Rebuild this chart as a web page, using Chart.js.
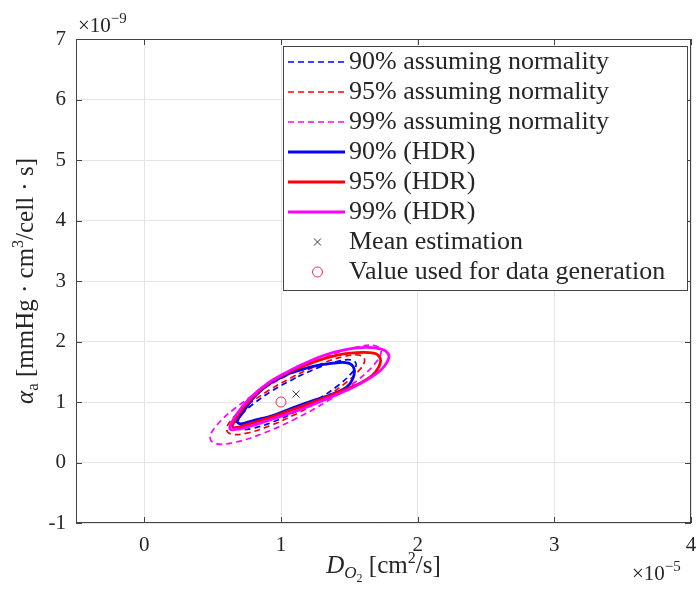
<!DOCTYPE html>
<html>
<head>
<meta charset="utf-8">
<script src="https://cdn.jsdelivr.net/npm/chart.js@4.4.1/dist/chart.umd.min.js"></script>
<style>
  html, body { margin: 0; padding: 0; background: #fff; }
  canvas { display: block; }
</style>
</head>
<body>
<canvas id="regionChart" width="697" height="590"></canvas>
<script>
"use strict";

// D_O2 in units of 1e-5 cm^2/s, alpha_a in units of 1e-9
const xTickValues = [0, 1, 2, 3, 4];
const yTickValues = [-1, 0, 1, 2, 3, 4, 5, 6, 7];

// confidence ellipses under the normal approximation
const normal90X = [1.107, 0.937, 0.794, 0.698, 0.664, 0.698, 0.794, 0.937, 1.107, 1.277, 1.420, 1.516, 1.550, 1.516, 1.420, 1.277, 1.107];
const normal90Y = [1.401, 1.187, 0.963, 0.762, 0.616, 0.546, 0.565, 0.667, 0.839, 1.053, 1.277, 1.478, 1.624, 1.694, 1.675, 1.573, 1.401];
const normal95X = [1.107, 0.914, 0.750, 0.640, 0.602, 0.640, 0.750, 0.914, 1.107, 1.300, 1.464, 1.574, 1.612, 1.574, 1.464, 1.300, 1.107];
const normal95Y = [1.441, 1.197, 0.940, 0.712, 0.545, 0.466, 0.486, 0.603, 0.799, 1.043, 1.300, 1.528, 1.695, 1.774, 1.754, 1.637, 1.441];
const normal99X = [1.107, 0.867, 0.664, 0.529, 0.481, 0.529, 0.664, 0.867, 1.107, 1.347, 1.550, 1.685, 1.733, 1.685, 1.550, 1.347, 1.107];
const normal99Y = [1.517, 1.214, 0.897, 0.613, 0.407, 0.309, 0.335, 0.480, 0.723, 1.026, 1.343, 1.627, 1.833, 1.931, 1.905, 1.760, 1.517];

// highest density region contours
const hdr90X = [1.063, 0.915, 0.804, 0.731, 0.680, 0.705, 0.792, 0.940, 1.087, 1.235, 1.383, 1.481, 1.525, 1.535, 1.493, 1.383, 1.235, 1.063];
const hdr90Y = [1.476, 1.300, 1.080, 0.860, 0.680, 0.640, 0.690, 0.775, 0.904, 1.025, 1.135, 1.245, 1.383, 1.548, 1.642, 1.642, 1.587, 1.476];
const hdr95X = [1.112, 0.940, 0.792, 0.694, 0.645, 0.657, 0.768, 0.940, 1.137, 1.333, 1.481, 1.579, 1.666, 1.715, 1.727, 1.678, 1.506, 1.309, 1.112];
const hdr95Y = [1.548, 1.356, 1.080, 0.805, 0.612, 0.573, 0.639, 0.760, 0.915, 1.080, 1.218, 1.311, 1.438, 1.576, 1.714, 1.807, 1.807, 1.714, 1.548];
const hdr99X = [1.112, 0.915, 0.768, 0.669, 0.625, 0.644, 0.768, 0.940, 1.137, 1.333, 1.506, 1.641, 1.727, 1.776, 1.788, 1.727, 1.555, 1.333, 1.112];
const hdr99Y = [1.576, 1.328, 1.052, 0.777, 0.573, 0.540, 0.595, 0.722, 0.871, 1.052, 1.218, 1.383, 1.521, 1.659, 1.785, 1.879, 1.895, 1.785, 1.576];

const meanEstimate = { x: 1.11, y: 1.13 };
const trueValue = { x: 1.0, y: 1.0 };

const serif = "'Liberation Serif', 'Times New Roman', serif";
const inkColor = "#262626";
const gridColor = "#e4e4e4";
const boxColor = "#444444";

function toPoints(xs, ys) {
  return xs.map((x, i) => ({ x: x, y: ys[i] }));
}

function contour(label, xs, ys, color, dashed) {
  return {
    label: label,
    data: toPoints(xs, ys),
    showLine: true,
    borderColor: color,
    borderWidth: dashed ? 1.7 : 2.8,
    borderDash: dashed ? [6, 4] : [],
    pointRadius: 0,
    tension: 0.4,
  };
}

const datasets = [
  contour("90% assuming normality", normal90X, normal90Y, "#0000ff", true),
  contour("95% assuming normality", normal95X, normal95Y, "#ff0000", true),
  contour("99% assuming normality", normal99X, normal99Y, "#ff00ff", true),
  contour("90% (HDR)", hdr90X, hdr90Y, "#0000ff", false),
  contour("95% (HDR)", hdr95X, hdr95Y, "#ff0000", false),
  contour("99% (HDR)", hdr99X, hdr99Y, "#ff00ff", false),
  {
    label: "Mean estimation",
    data: [meanEstimate],
    pointStyle: "crossRot",
    pointRadius: 5,
    pointBorderColor: "#333333",
    pointBorderWidth: 1,
  },
  {
    label: "Value used for data generation",
    data: [trueValue],
    pointStyle: "circle",
    pointRadius: 5,
    pointBorderColor: "#f0305a",
    pointBackgroundColor: "rgba(0,0,0,0)",
    pointBorderWidth: 1,
  },
];
// later series are painted on top
datasets.forEach((ds, i) => { ds.order = datasets.length - i; });

function runFont(r) {
  return (r.italic ? "italic " : "") + r.size + "px " + serif;
}

// draws a label made of runs with their own size and vertical shift
function drawRuns(ctx, runs, x, y, align) {
  let total = 0;
  runs.forEach(r => {
    ctx.font = runFont(r);
    total += ctx.measureText(r.text).width;
  });
  let cx = align === "center" ? x - total / 2 : x;
  ctx.textAlign = "left";
  ctx.textBaseline = "alphabetic";
  runs.forEach(r => {
    ctx.font = runFont(r);
    ctx.fillText(r.text, cx, y + (r.dy || 0));
    cx += ctx.measureText(r.text).width;
  });
}

const xTitleRuns = [
  { text: "D", size: 25, italic: true },
  { text: "O", size: 17, dy: 5, italic: true },
  { text: "2", size: 12, dy: 9 },
  { text: " [cm", size: 25 },
  { text: "2", size: 16, dy: -10 },
  { text: "/s]", size: 25 },
];
const yTitleRuns = [
  { text: "α", size: 25, italic: true },
  { text: "a", size: 17, dy: 5 },
  { text: " [mmHg · cm", size: 25 },
  { text: "3", size: 16, dy: -10 },
  { text: "/cell · s]", size: 25 },
];
const yExponentRuns = [{ text: "×10", size: 21 }, { text: "−9", size: 15, dy: -9 }];
const xExponentRuns = [{ text: "×10", size: 21 }, { text: "−5", size: 15, dy: -9 }];

const legendBox = { left: 283, top: 46, right: 687, bottom: 290 };

const decorations = {
  id: "decorations",
  beforeDraw(chart) {
    const ctx = chart.ctx;
    ctx.save();
    ctx.fillStyle = "#ffffff";
    ctx.fillRect(0, 0, chart.width, chart.height);
    ctx.restore();
  },
  afterDraw(chart) {
    const ctx = chart.ctx;
    const a = chart.chartArea;
    const xs = chart.scales.x;
    const ys = chart.scales.y;
    ctx.save();

    // axes box with inward ticks
    ctx.strokeStyle = boxColor;
    ctx.lineWidth = 1;
    ctx.setLineDash([]);
    ctx.strokeRect(Math.round(a.left) + 0.5, Math.round(a.top) + 0.5,
      Math.round(a.right - a.left) - 1, Math.round(a.bottom - a.top) - 1);
    ctx.beginPath();
    xTickValues.forEach(v => {
      const px = Math.round(xs.getPixelForValue(v)) + 0.5;
      ctx.moveTo(px, a.bottom); ctx.lineTo(px, a.bottom - 6);
      ctx.moveTo(px, a.top); ctx.lineTo(px, a.top + 6);
    });
    yTickValues.forEach(v => {
      const py = Math.round(ys.getPixelForValue(v)) + 0.5;
      ctx.moveTo(a.left, py); ctx.lineTo(a.left + 6, py);
      ctx.moveTo(a.right, py); ctx.lineTo(a.right - 6, py);
    });
    ctx.stroke();

    // legend
    ctx.fillStyle = "#ffffff";
    ctx.fillRect(legendBox.left, legendBox.top, legendBox.right - legendBox.left, legendBox.bottom - legendBox.top);
    ctx.strokeStyle = boxColor;
    ctx.strokeRect(legendBox.left + 0.5, legendBox.top + 0.5,
      legendBox.right - legendBox.left, legendBox.bottom - legendBox.top);
    chart.data.datasets.forEach((ds, i) => {
      const y = 62 + i * 30;
      ctx.beginPath();
      if (ds.showLine) {
        ctx.setLineDash(ds.borderDash);
        ctx.lineWidth = ds.borderWidth;
        ctx.strokeStyle = ds.borderColor;
        ctx.moveTo(288, y);
        ctx.lineTo(345, y);
      } else if (ds.pointStyle === "crossRot") {
        ctx.setLineDash([]);
        ctx.lineWidth = ds.pointBorderWidth;
        ctx.strokeStyle = ds.pointBorderColor;
        ctx.moveTo(314, y - 3.5); ctx.lineTo(321, y + 3.5);
        ctx.moveTo(321, y - 3.5); ctx.lineTo(314, y + 3.5);
      } else {
        ctx.setLineDash([]);
        ctx.lineWidth = ds.pointBorderWidth;
        ctx.strokeStyle = ds.pointBorderColor;
        ctx.arc(317.5, y, 5, 0, Math.PI * 2);
      }
      ctx.stroke();
      ctx.fillStyle = inkColor;
      ctx.font = "26px " + serif;
      ctx.textAlign = "left";
      ctx.textBaseline = "middle";
      ctx.fillText(ds.label, 349, y);
    });

    // axis titles and exponents
    ctx.fillStyle = inkColor;
    drawRuns(ctx, xTitleRuns, (a.left + a.right) / 2, 573, "center");
    ctx.save();
    ctx.translate(33, (a.top + a.bottom) / 2);
    ctx.rotate(-Math.PI / 2);
    drawRuns(ctx, yTitleRuns, 0, 0, "center");
    ctx.restore();
    drawRuns(ctx, yExponentRuns, 78, 32, "left");
    drawRuns(ctx, xExponentRuns, 632, 580, "left");

    ctx.restore();
  },
};

const tickFont = { family: serif, size: 21 };

new Chart(document.getElementById("regionChart").getContext("2d"), {
  type: "scatter",
  data: { datasets: datasets },
  options: {
    responsive: false,
    animation: false,
    events: [],
    layout: { padding: { left: 0, top: 39, right: 6, bottom: 0 } },
    plugins: {
      legend: { display: false },
      tooltip: { enabled: false },
    },
    scales: {
      x: {
        type: "linear",
        min: -0.5,
        max: 4,
        afterBuildTicks: s => { s.ticks = xTickValues.map(v => ({ value: v })); },
        afterFit: s => { s.height = 67; s.paddingLeft = 0; s.paddingRight = 0; },
        grid: { color: gridColor, drawTicks: false },
        border: { display: false },
        ticks: {
          padding: 10,
          color: inkColor,
          font: tickFont,
          maxRotation: 0,
          autoSkip: false,
          callback: v => String(v),
        },
      },
      y: {
        type: "linear",
        min: -1,
        max: 7,
        afterBuildTicks: s => { s.ticks = yTickValues.map(v => ({ value: v })); },
        afterFit: s => { s.width = 76; },
        grid: { color: gridColor, drawTicks: false },
        border: { display: false },
        ticks: {
          padding: 10,
          color: inkColor,
          font: tickFont,
          autoSkip: false,
          callback: v => String(v),
        },
      },
    },
  },
  plugins: [decorations],
});
</script>
</body>
</html>
